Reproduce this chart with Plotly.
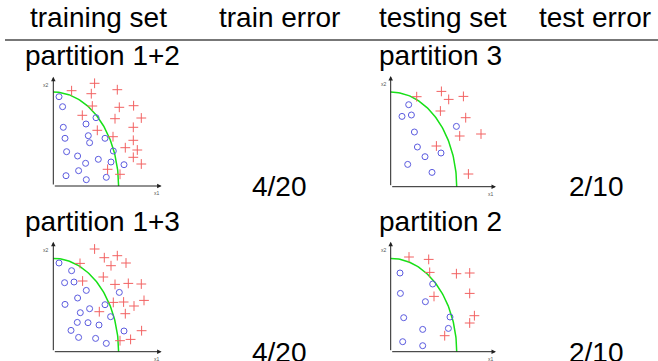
import numpy as np
import plotly.graph_objects as go

W, H = 658, 361

# ---------------- table text ----------------
headers = ["training set", "train error", "testing set", "test error"]
train_sets = ["partition 1+2", "partition 1+3"]
test_sets = ["partition 3", "partition 2"]
train_errors = ["4/20", "4/20"]
test_errors = ["2/10", "2/10"]

# ---------------- mini scatter data (units) ----------------
# panel A: partition 1+2
a_circle_x = [5.7, 9.3, 42.7, 32.7, 10.0, 11.7, 35.0, 36.3, 51.7, 13.3, 24.3, 60.0, 45.0, 32.3, 57.7, 70.7, 25.3, 12.7, 33.0, 53.0]
a_circle_y = [89.3, 79.3, 68.3, 62.0, 58.7, 47.7, 50.3, 43.3, 47.7, 34.3, 30.0, 35.0, 26.7, 22.7, 24.0, 21.3, 15.3, 10.3, 6.3, 8.7]
a_plus_x = [41.3, 18.3, 38.0, 64.0, 39.0, 66.0, 80.3, 29.0, 61.7, 88.0, 44.0, 80.0, 59.7, 80.0, 72.0, 84.0, 80.0, 88.0, 54.3, 66.7]
a_plus_y = [102.7, 95.3, 92.3, 96.3, 80.0, 78.7, 80.3, 70.7, 67.3, 68.0, 55.7, 58.7, 49.3, 45.7, 38.3, 36.0, 28.7, 22.0, 16.7, 11.7]
a_boundary = (65.3, 94.0)

# panel B: partition 3
b_circle_x = [18.0, 11.3, 20.7, 23.7, 65.7, 26.7, 50.3, 34.3, 17.0, 41.3]
b_circle_y = [82.0, 70.3, 71.7, 54.7, 60.3, 39.7, 33.7, 30.0, 22.3, 14.3]
b_plus_x = [26.0, 50.7, 58.0, 72.7, 49.7, 75.0, 69.0, 90.3, 45.7, 77.7]
b_plus_y = [90.0, 95.3, 87.3, 90.3, 75.7, 69.0, 50.7, 52.7, 40.7, 12.7]
b_boundary = (66.0, 94.7)

# panel C: partition 1+3
c_circle_x = [5.7, 18.3, 11.3, 20.7, 33.0, 24.3, 66.0, 11.7, 36.3, 27.0, 51.7, 57.3, 24.0, 34.7, 45.7, 17.7, 70.7, 25.3, 42.3, 53.0]
c_circle_y = [88.7, 81.0, 69.0, 69.7, 61.3, 53.7, 59.3, 47.3, 43.0, 39.0, 47.0, 35.0, 29.3, 29.0, 26.7, 21.3, 20.7, 14.3, 13.3, 8.3]
c_plus_x = [41.3, 26.7, 51.0, 64.0, 57.7, 72.7, 29.3, 50.0, 61.7, 75.0, 88.0, 60.0, 70.3, 80.7, 90.7, 46.0, 72.0, 88.3, 77.3, 66.7]
c_plus_y = [102.7, 88.3, 94.0, 96.0, 86.0, 88.7, 70.7, 74.7, 67.3, 68.3, 67.7, 49.3, 49.7, 45.7, 51.3, 40.0, 38.0, 21.0, 12.3, 11.0]
c_boundary = (65.3, 93.3)

# panel D: partition 2
d_circle_x = [9.3, 9.7, 42.0, 34.7, 13.0, 59.3, 57.7, 32.0, 12.0, 32.0]
d_circle_y = [78.7, 58.3, 67.7, 50.0, 34.0, 34.7, 23.3, 22.3, 10.0, 6.0]
d_plus_x = [18.3, 38.0, 39.0, 65.7, 79.0, 43.3, 79.0, 83.7, 79.0, 54.0]
d_plus_y = [94.7, 92.3, 79.3, 78.0, 78.7, 55.3, 58.3, 36.0, 28.7, 16.0]
d_boundary = (66.0, 93.3)

# ---------------- layout helpers ----------------
FONT = "Liberation Sans, Arial, Helvetica, sans-serif"
TXT = 28
CIRCLE_COLOR = "#5b5bdf"
PLUS_COLOR = "#f26262"
CURVE_COLOR = "#18e018"
AXIS_COLOR = "#222222"

panels = [
    dict(cx=a_circle_x, cy=a_circle_y, px=a_plus_x, py=a_plus_y, bd=a_boundary,
         origin=(53.3, 186.0), xend=108.3, yend=109.3),
    dict(cx=b_circle_x, cy=b_circle_y, px=b_plus_x, py=b_plus_y, bd=b_boundary,
         origin=(390.7, 186.7), xend=105.3, yend=110.7),
    dict(cx=c_circle_x, cy=c_circle_y, px=c_plus_x, py=c_plus_y, bd=c_boundary,
         origin=(53.3, 351.7), xend=108.3, yend=110.0),
    dict(cx=d_circle_x, cy=d_circle_y, px=d_plus_x, py=d_plus_y, bd=d_boundary,
         origin=(390.7, 351.7), xend=105.3, yend=110.0),
]

fig = go.Figure()
layout_axes = {}
annotations = []
LO, HI = -5, 115

for i, p in enumerate(panels, start=1):
    xa = "x" if i == 1 else f"x{i}"
    ya = "y" if i == 1 else f"y{i}"
    ox, oy = p["origin"]
    yb = H - oy
    layout_axes["xaxis" if i == 1 else f"xaxis{i}"] = dict(
        domain=[(ox + LO) / W, (ox + HI) / W], range=[LO, HI], visible=False,
        anchor=ya, fixedrange=True)
    layout_axes["yaxis" if i == 1 else f"yaxis{i}"] = dict(
        domain=[max(0, (yb + LO) / H), (yb + HI) / H], range=[LO, HI], visible=False,
        anchor=xa, fixedrange=True)

    a, b = p["bd"]
    th = np.linspace(0, np.pi / 2, 80)
    fig.add_trace(go.Scatter(x=a * np.cos(th), y=b * np.sin(th), mode="lines",
                             line=dict(color=CURVE_COLOR, width=1.5),
                             xaxis=xa, yaxis=ya, hoverinfo="skip", cliponaxis=False))
    fig.add_trace(go.Scatter(x=p["cx"], y=p["cy"], mode="markers",
                             marker=dict(symbol="circle-open", size=6, color=CIRCLE_COLOR,
                                         line=dict(width=1, color=CIRCLE_COLOR)),
                             xaxis=xa, yaxis=ya, cliponaxis=False))
    fig.add_trace(go.Scatter(x=p["px"], y=p["py"], mode="markers",
                             marker=dict(symbol="cross-thin", size=7, color=PLUS_COLOR,
                                         line=dict(width=1, color=PLUS_COLOR)),
                             xaxis=xa, yaxis=ya, cliponaxis=False))
    # axes with arrows
    for (ex, ey) in [(p["xend"], 0), (0, p["yend"])]:
        annotations.append(dict(x=ex, y=ey, ax=0, ay=0, xref=xa, yref=ya, axref=xa, ayref=ya,
                                text="", showarrow=True, arrowhead=2, arrowsize=0.9,
                                arrowwidth=1, arrowcolor=AXIS_COLOR))
    annotations.append(dict(x=p["xend"] - 5, y=-2, xref=xa, yref=ya, text="x1",
                            showarrow=False, xanchor="center", yanchor="top",
                            font=dict(size=5, color="#555", family=FONT)))
    annotations.append(dict(x=-2, y=p["yend"] - 8, xref=xa, yref=ya, text="x2",
                            showarrow=False, xanchor="right", yanchor="middle",
                            font=dict(size=5, color="#555", family=FONT)))


def txt(s, x, y, anchor="center"):
    annotations.append(dict(text=s, x=x / W, y=1 - y / H, xref="paper", yref="paper",
                            showarrow=False, xanchor=anchor, yanchor="middle",
                            font=dict(family=FONT, size=TXT, color="black")))


# header
txt(headers[0], 28, 18, "left")
txt(headers[1], 279, 18)
txt(headers[2], 377, 18, "left")
txt(headers[3], 595, 18)

row_label_y = [56, 221]
row_err_y = [186, 352]
for r in range(2):
    txt(train_sets[r], 23, row_label_y[r], "left")
    txt(test_sets[r], 377, row_label_y[r], "left")
    txt(train_errors[r], 279, row_err_y[r])
    txt(test_errors[r], 596, row_err_y[r])

fig.update_layout(
    width=W, height=H, margin=dict(l=0, r=0, t=0, b=0),
    paper_bgcolor="white", plot_bgcolor="white", showlegend=False,
    annotations=annotations,
    shapes=[dict(type="line", xref="paper", yref="paper", x0=5 / W, x1=1,
                 y0=1 - 40 / H, y1=1 - 40 / H, line=dict(color="#777777", width=2))],
    **layout_axes,
)

fig.write_html(
    "out.html",
    config={"displayModeBar": False, "staticPlot": True},
    post_script="document.body.style.margin='0';document.body.style.padding='0';"
                "document.body.style.overflow='hidden';",
)
